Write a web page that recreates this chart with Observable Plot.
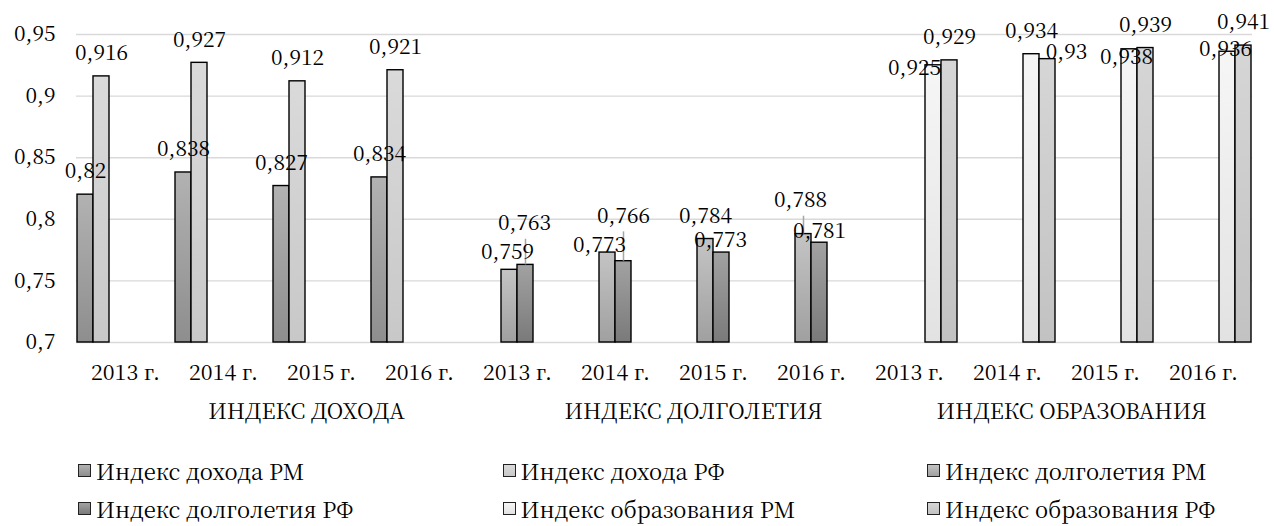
<!DOCTYPE html>
<html>
<head>
<meta charset="utf-8">
<script src="https://cdn.jsdelivr.net/npm/d3@7"></script>
<script src="https://cdn.jsdelivr.net/npm/@observablehq/plot@0.6"></script>
<style>
  html, body { margin: 0; padding: 0; background: #fff; }
  body { position: relative; width: 1274px; height: 526px; overflow: hidden; }
  svg text, #legend, #legend * { font-family: 'Noto Serif CJK SC', 'Noto Serif CJK JP', serif !important; }
  #legend { position: absolute; left: 78px; top: 452px;
            display: grid; grid-template-columns: 424.5px 424.5px 370px;
            grid-auto-rows: 38px; align-items: center; font-size: 22px; line-height: 1.2; color: #000; }
  .item { display: flex; align-items: center; white-space: nowrap; }
  .sw { width: 11px; height: 11px; border: 1.3px solid #222; margin-right: 5px; flex: none; }
</style>
</head>
<body>
<svg width="0" height="0" style="position:absolute">
  <defs>
    <linearGradient id="g0" x1="0" y1="0" x2="0" y2="1"><stop offset="0" stop-color="#b2b2b2"/><stop offset="1" stop-color="#8e8e8e"/></linearGradient>
    <linearGradient id="g1" x1="0" y1="0" x2="0" y2="1"><stop offset="0" stop-color="#dadada"/><stop offset="1" stop-color="#c8c8c8"/></linearGradient>
    <linearGradient id="g2" x1="0" y1="0" x2="0" y2="1"><stop offset="0" stop-color="#c4c4c4"/><stop offset="1" stop-color="#a0a0a0"/></linearGradient>
    <linearGradient id="g3" x1="0" y1="0" x2="0" y2="1"><stop offset="0" stop-color="#a2a2a2"/><stop offset="1" stop-color="#7a7a7a"/></linearGradient>
    <linearGradient id="g4" x1="0" y1="0" x2="0" y2="1"><stop offset="0" stop-color="#f6f6f6"/><stop offset="1" stop-color="#e2e2e2"/></linearGradient>
    <linearGradient id="g5" x1="0" y1="0" x2="0" y2="1"><stop offset="0" stop-color="#d6d6d6"/><stop offset="1" stop-color="#c2c2c2"/></linearGradient>
  </defs>
</svg>
<div id="chart"></div>
<div id="legend"></div>
<script>
// ---- data ----
const groups = ["ИНДЕКС ДОХОДА", "ИНДЕКС ДОЛГОЛЕТИЯ", "ИНДЕКС ОБРАЗОВАНИЯ"];
const years = ["2013 г.", "2014 г.", "2015 г.", "2016 г."];
const seriesNames = ["Индекс дохода РМ", "Индекс дохода РФ", "Индекс долголетия РМ",
                     "Индекс долголетия РФ", "Индекс образования РМ", "Индекс образования РФ"];
const incomeRM    = [0.82, 0.838, 0.827, 0.834];
const incomeRF    = [0.916, 0.927, 0.912, 0.921];
const longevityRM = [0.759, 0.773, 0.784, 0.788];
const longevityRF = [0.763, 0.766, 0.773, 0.781];
const educationRM = [0.925, 0.934, 0.938, 0.936];
const educationRF = [0.929, 0.93, 0.939, 0.941];
const yTicks = [0.7, 0.75, 0.8, 0.85, 0.9, 0.95];
// leader lines (series index, year index, top value of the leader)
const leaderSeries = [3, 3, 2];
const leaderYear   = [0, 1, 3];
const leaderTop    = [0.7838, 0.7898, 0.8025];

// ---- derived table ----
const seriesValues = [incomeRM, incomeRF, longevityRM, longevityRF, educationRM, educationRF];
const catKeys = groups.flatMap((g, gi) => years.map(y => `${gi}|${y}`));
const rows = [];
seriesValues.forEach((vals, s) => {
  const gi = Math.floor(s / 2);
  vals.forEach((v, yi) => rows.push({cat: `${gi}|${years[yi]}`, series: seriesNames[s], s, yi, value: v, fill: `url(#g${s})`}));
});
const leaders = leaderSeries.map((s, i) => {
  const r = rows.find(d => d.s === s && d.yi === leaderYear[i]);
  return {...r, top: leaderTop[i]};
});

// label nudges [dx, dy] relative to the top of each bar (default is [0, -23])
const nudge = {
  "2|0": [-2, -18], "3|0": [-1, -42], "2|1": [-8, -7], "3|1": [0, -45],
  "3|2": [-1, -12], "2|3": [-3, -34], "3|3": [0, -11],
  "4|0": [-19, 3], "5|1": [19, -7], "4|2": [-3, 8], "4|3": [-2, -2]
};
const groupDx = [-15, -20, -34];

const fmt = v => String(v).replace(".", ",");
const FAMILY = "'Noto Serif CJK SC', 'Noto Serif CJK JP', serif";

const labelMarks = rows.map(d => {
  const [dx, dy] = nudge[`${d.s}|${d.yi}`] || [0, -23];
  return Plot.text([d], {fx: "cat", x: "series", y: "value", text: r => fmt(r.value),
    dx, dy, lineAnchor: "middle", textAnchor: "middle", fontSize: 21, fill: "#000"});
});

const groupMarks = groups.map((g, gi) =>
  Plot.text([g], {fx: () => catKeys[gi * 4 + 2], text: d => d, frameAnchor: "bottom",
    dy: 70, dx: groupDx[gi], lineAnchor: "middle", fontSize: 21.5, fill: "#000"}));

const chart = Plot.plot({
  width: 1274,
  height: 436,
  marginLeft: 74,
  marginRight: 21,
  marginTop: 34,
  marginBottom: 94,
  style: {fontFamily: FAMILY, fontSize: "21px", background: "#fff", overflow: "visible"},
  fx: {domain: catKeys, padding: 0, axis: null},
  x: {domain: seriesNames, padding: 0, axis: null},
  y: {domain: [yTicks[0], yTicks[yTicks.length - 1]], axis: null},
  color: {type: "identity"},
  marks: [
    Plot.gridY(yTicks, {stroke: "#d9d9d9", strokeOpacity: 1, strokeWidth: 1.4}),
    Plot.axisY(yTicks, {tickSize: 0, tickPadding: 21, tickFormat: fmt, fontSize: 21, fill: "#000"}),
    Plot.barY(rows, {fx: "cat", x: "series", y1: () => yTicks[0], y2: "value", fill: "fill",
      stroke: "#000", strokeWidth: 1.4, inset: 0}),
    Plot.ruleX(leaders, {fx: "cat", x: "series", y1: "value", y2: "top", stroke: "#a6a6a6", strokeWidth: 1.5}),
    ...labelMarks,
    Plot.text(catKeys, {fx: d => d, text: d => d.split("|")[1], frameAnchor: "bottom", dy: 31,
      lineAnchor: "middle", fontSize: 21.5, fill: "#000"}),
    ...groupMarks
  ]
});
chart.querySelectorAll("text").forEach(t => t.style.setProperty("font-family", FAMILY, "important"));
document.getElementById("chart").appendChild(chart);

// legend
const swatchColors = [["#b2b2b2","#8e8e8e"],["#dadada","#c8c8c8"],["#c4c4c4","#a0a0a0"],
                      ["#a2a2a2","#7a7a7a"],["#f6f6f6","#e2e2e2"],["#d6d6d6","#c2c2c2"]];
const legend = document.getElementById("legend");
seriesNames.forEach((name, i) => {
  const item = document.createElement("div");
  item.className = "item";
  const sw = document.createElement("span");
  sw.className = "sw";
  sw.style.background = `linear-gradient(${swatchColors[i][0]}, ${swatchColors[i][1]})`;
  const t = document.createElement("span");
  t.textContent = name;
  t.style.setProperty("font-family", FAMILY, "important");
  item.appendChild(sw); item.appendChild(t);
  legend.appendChild(item);
});
</script>
</body>
</html>
